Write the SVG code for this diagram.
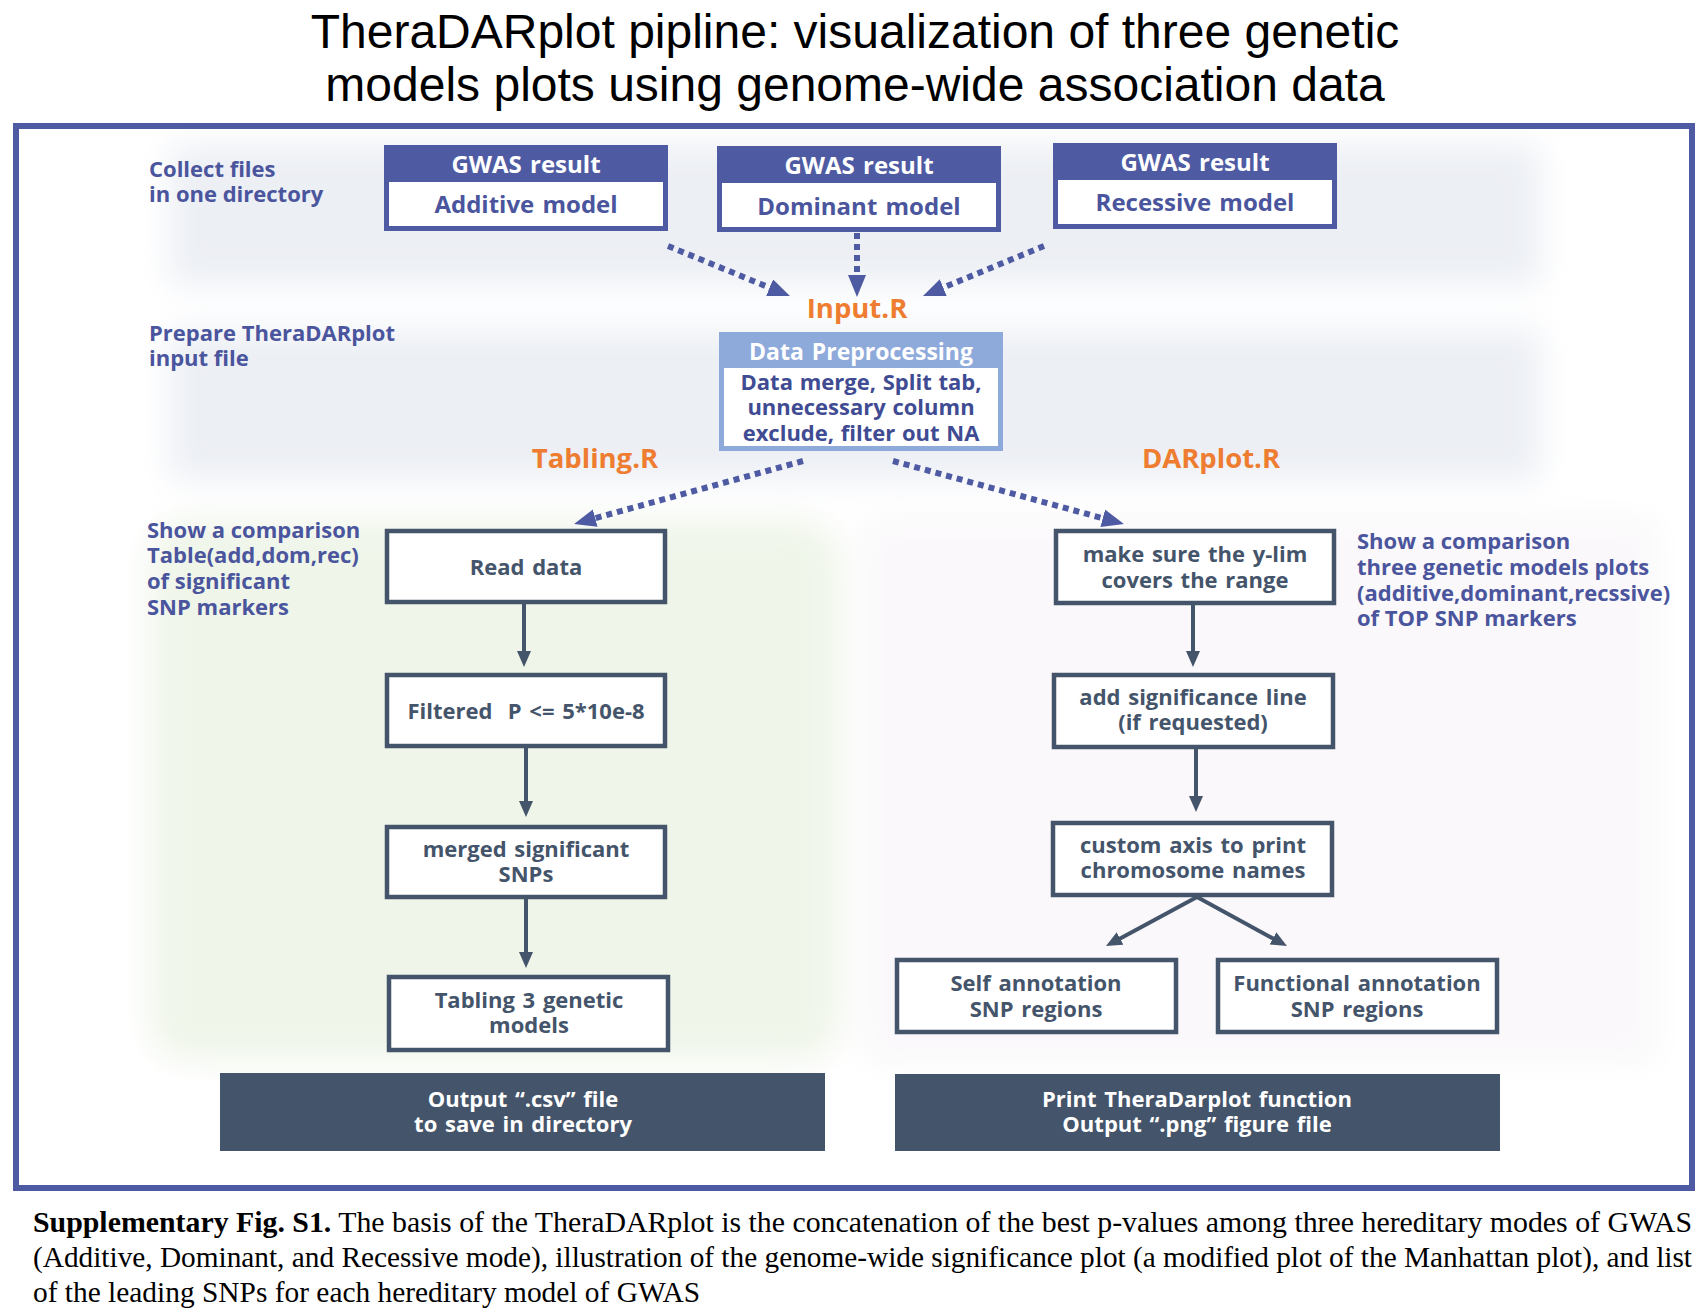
<svg xmlns="http://www.w3.org/2000/svg" width="1708" height="1316" viewBox="0 0 1708 1316">
<style>
.title{font-family:"Liberation Sans",Arial,sans-serif;font-size:48px;fill:#000;text-anchor:middle}
.cap{font-family:"Liberation Serif","Times New Roman",serif;font-size:28.5px;fill:#000}
.lbl{font-family:"Open Sans","Noto Sans",sans-serif;font-weight:700;font-size:22px;fill:#4a559d}
.orn{font-family:"Open Sans","Noto Sans",sans-serif;font-weight:700;font-size:27.5px;fill:#ee7d31;text-anchor:middle}
.nt{font-family:"Open Sans","Noto Sans",sans-serif;font-weight:700;font-size:22px;word-spacing:2px;fill:#44546a;text-anchor:middle}
.wt{font-family:"Open Sans","Noto Sans",sans-serif;font-weight:700;font-size:22px;word-spacing:2px;fill:#fff;text-anchor:middle}
.gw{font-size:24px}
.bt{font-family:"Open Sans","Noto Sans",sans-serif;font-weight:700;font-size:24px;word-spacing:2px;fill:#4a559d;text-anchor:middle}
.dp{font-size:22px;fill:#3f4b92;word-spacing:1px}
.box{fill:#fff;stroke:#44546a;stroke-width:4.5}
.dark{fill:#44546a}
.gblue{fill:#4e5ba3}
.dot{fill:none;stroke:#4e5ba3;stroke-width:6;stroke-dasharray:6 5}
.sol{fill:none;stroke:#44546a;stroke-width:4}
</style>
<defs>
<filter id="blur" x="-10%" y="-10%" width="120%" height="120%"><feGaussianBlur stdDeviation="16"/></filter>
<marker id="dh" markerUnits="userSpaceOnUse" markerWidth="24" markerHeight="20" refX="4" refY="9" orient="auto"><path d="M0,0 L22,9 L0,18 z" fill="#4e5ba3"/></marker>
<marker id="sh" markerUnits="userSpaceOnUse" markerWidth="18" markerHeight="16" refX="2" refY="7" orient="auto"><path d="M0,0 L16,7 L0,14 z" fill="#44546a"/></marker>
</defs>
<rect width="1708" height="1316" fill="#fff"/>
<text class="title" x="855" y="48">TheraDARplot pipline: visualization of three genetic</text>
<text class="title" x="855" y="101">models plots using genome-wide association data</text>

<g id="background" filter="url(#blur)">
<rect x="170" y="145" width="1370" height="140" fill="#eceff4"/>
<rect x="170" y="330" width="1370" height="150" fill="#eceff4"/>
<rect x="150" y="520" width="690" height="540" rx="40" fill="#eff5e9"/>
<rect x="865" y="520" width="790" height="540" fill="#faf8fa"/>
</g>

<rect id="frame" x="16" y="126" width="1676" height="1062" fill="none" stroke="#4e5ba3" stroke-width="6"/>

<g id="labels">
<text class="lbl" x="149" y="177">Collect files</text>
<text class="lbl" x="149" y="202">in one directory</text>
<text class="lbl" x="149" y="341">Prepare TheraDARplot</text>
<text class="lbl" x="149" y="366">input file</text>
<text class="lbl" x="147" y="538">Show a comparison</text>
<text class="lbl" x="147" y="563">Table(add,dom,rec)</text>
<text class="lbl" x="147" y="589">of significant</text>
<text class="lbl" x="147" y="615">SNP markers</text>
<text class="lbl" x="1357" y="549">Show a comparison</text>
<text class="lbl" x="1357" y="575">three genetic models plots</text>
<text class="lbl" x="1357" y="601">(additive,dominant,recssive)</text>
<text class="lbl" x="1357" y="626">of TOP SNP markers</text>
<text class="orn" x="857" y="318">Input.R</text>
<text class="orn" x="595" y="468">Tabling.R</text>
<text class="orn" x="1211" y="468">DARplot.R</text>
</g>

<g id="gwas-additive">
<rect class="gblue" x="384" y="145" width="284" height="86"/>
<rect x="389" y="182" width="274" height="44" fill="#fff"/>
<text class="wt gw" x="526" y="173">GWAS result</text>
<text class="bt" x="526" y="213">Additive model</text>
</g>
<g id="gwas-dominant">
<rect class="gblue" x="717" y="146" width="284" height="86"/>
<rect x="722" y="183" width="274" height="44" fill="#fff"/>
<text class="wt gw" x="859" y="174">GWAS result</text>
<text class="bt" x="859" y="215">Dominant model</text>
</g>
<g id="gwas-recessive">
<rect class="gblue" x="1053" y="143" width="284" height="86"/>
<rect x="1058" y="180" width="274" height="44" fill="#fff"/>
<text class="wt gw" x="1195" y="171">GWAS result</text>
<text class="bt" x="1195" y="211">Recessive model</text>
</g>

<g id="data-preprocessing">
<rect x="719" y="332" width="284" height="119" fill="#8eaadb"/>
<rect x="724" y="368" width="274" height="78" fill="#fff"/>
<text class="wt" x="861" y="360" style="font-size:23px">Data Preprocessing</text>
<text class="bt dp" x="861" y="390">Data merge, Split tab,</text>
<text class="bt dp" x="861" y="415">unnecessary column</text>
<text class="bt dp" x="861" y="441">exclude, filter out NA</text>
</g>

<g id="read-data">
<rect class="box" x="387" y="531" width="278" height="71"/>
<text class="nt" x="526" y="575">Read data</text>
</g>
<g id="filtered">
<rect class="box" x="387" y="675" width="278" height="71"/>
<text class="nt" x="526" y="719" xml:space="preserve">Filtered  P &lt;= 5*10e-8</text>
</g>
<g id="merged">
<rect class="box" x="387" y="827" width="278" height="70"/>
<text class="nt" x="526" y="857">merged significant</text>
<text class="nt" x="526" y="882">SNPs</text>
</g>
<g id="tabling">
<rect class="box" x="389" y="977" width="279" height="73"/>
<text class="nt" x="529" y="1008">Tabling 3 genetic</text>
<text class="nt" x="529" y="1033">models</text>
</g>
<g id="output-csv">
<rect class="dark" x="220" y="1073" width="605" height="78"/>
<text class="wt" x="523" y="1107">Output “.csv” file</text>
<text class="wt" x="523" y="1132">to save in directory</text>
</g>

<g id="ylim">
<rect class="box" x="1056" y="531" width="278" height="72"/>
<text class="nt" x="1195" y="562">make sure the y-lim</text>
<text class="nt" x="1195" y="588">covers the range</text>
</g>
<g id="sigline">
<rect class="box" x="1054" y="675" width="279" height="72"/>
<text class="nt" x="1193" y="705">add significance line</text>
<text class="nt" x="1193" y="730">(if requested)</text>
</g>
<g id="custom-axis">
<rect class="box" x="1053" y="823" width="279" height="72"/>
<text class="nt" x="1193" y="853">custom axis to print</text>
<text class="nt" x="1193" y="878">chromosome names</text>
</g>
<g id="self-annotation">
<rect class="box" x="897" y="960" width="279" height="72"/>
<text class="nt" x="1036" y="991">Self annotation</text>
<text class="nt" x="1036" y="1017">SNP regions</text>
</g>
<g id="functional-annotation">
<rect class="box" x="1218" y="960" width="279" height="72"/>
<text class="nt" x="1357" y="991">Functional annotation</text>
<text class="nt" x="1357" y="1017">SNP regions</text>
</g>
<g id="print-png">
<rect class="dark" x="895" y="1074" width="605" height="77"/>
<text class="wt" x="1197" y="1107">Print TheraDarplot function</text>
<text class="wt" x="1197" y="1132">Output “.png” figure file</text>
</g>

<g id="connectors">
<path class="dot" d="M668,246 L773.3,289.2" marker-end="url(#dh)"/>
<path class="dot" d="M857,233 L857,279" marker-end="url(#dh)"/>
<path class="dot" d="M1044,246 L939.6,289.1" marker-end="url(#dh)"/>
<path class="dot" d="M803,461 L591.4,519.2" marker-end="url(#dh)"/>
<path class="dot" d="M893,461 L1106.6,519.3" marker-end="url(#dh)"/>
<path class="sol" d="M524,604 L524,653" marker-end="url(#sh)"/>
<path class="sol" d="M526,748 L526,803" marker-end="url(#sh)"/>
<path class="sol" d="M526,899 L526,954" marker-end="url(#sh)"/>
<path class="sol" d="M1193,605 L1193,653" marker-end="url(#sh)"/>
<path class="sol" d="M1196,749 L1196,798" marker-end="url(#sh)"/>
<path class="sol" d="M1197,897 L1118.3,939.4" marker-end="url(#sh)"/>
<path class="sol" d="M1197,897 L1274.7,939.4" marker-end="url(#sh)"/>
</g>

<g id="caption">
<text class="cap" x="33" y="1232" textLength="1659" lengthAdjust="spacingAndGlyphs"><tspan font-weight="bold">Supplementary Fig. S1.</tspan> The basis of the TheraDARplot is the concatenation of the best p-values among three hereditary modes of GWAS</text>
<text class="cap" x="33" y="1267" textLength="1659" lengthAdjust="spacingAndGlyphs">(Additive, Dominant, and Recessive mode), illustration of the genome-wide significance plot (a modified plot of the Manhattan plot), and list</text>
<text class="cap" x="33" y="1302" textLength="667" lengthAdjust="spacingAndGlyphs">of the leading SNPs for each hereditary model of GWAS</text>
</g>
</svg>
